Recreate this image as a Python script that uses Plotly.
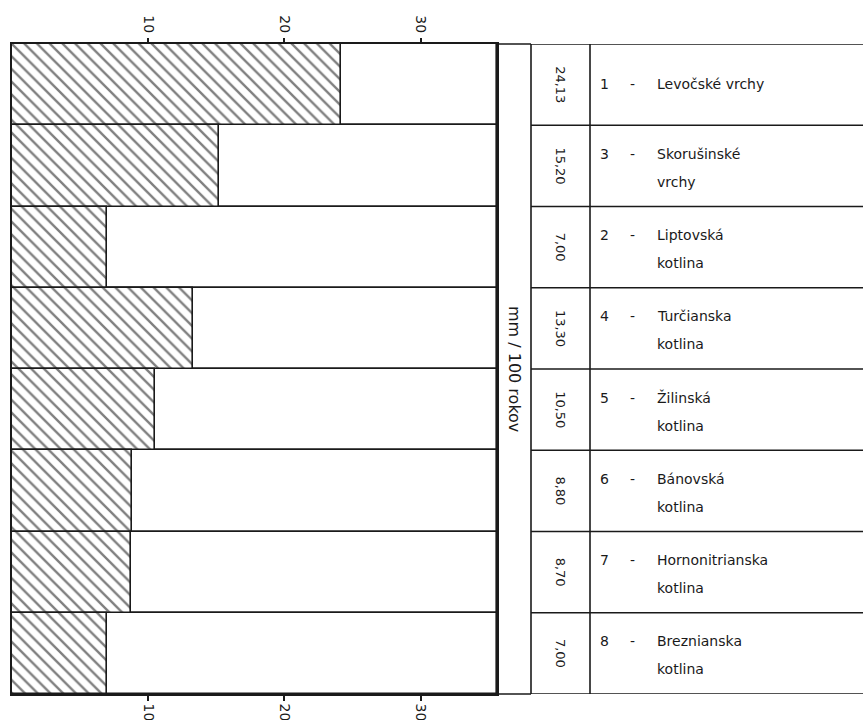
import plotly.graph_objects as go

# ---------------- data ----------------
region_numbers = ["1", "3", "2", "4", "5", "6", "7", "8"]
names_line1 = ["Levočské vrchy", "Skorušinské", "Liptovská", "Turčianska",
               "Žilinská", "Bánovská", "Hornonitrianska", "Breznianska"]
names_line2 = ["", "vrchy", "kotlina", "kotlina",
               "kotlina", "kotlina", "kotlina", "kotlina"]
values = [24.13, 15.20, 7.00, 13.30, 10.50, 8.80, 8.70, 7.00]
value_labels = ["24,13", "15,20", "7,00", "13,30", "10,50", "8,80", "8,70", "7,00"]
tick_vals = [10, 20, 30]
tick_text = ["10", "20", "30"]
unit_label = "mm / 100 rokov"

# ---------------- layout constants ----------------
W, H = 863, 720
X_MAX = 35.6
INK = "#1a1a1a"
FONT = "DejaVu Sans"
LW = 1.6

def px(x):
    return x / W

def py(y):
    return 1 - y / H

PLOT_L, PLOT_R, PLOT_T, PLOT_B = 12, 497, 44, 694
COL_VAL_L, COL_VAL_R = 531, 590

n = len(values)
rows = list(range(n))

fig = go.Figure()

# row frames (full width boxes)
fig.add_trace(go.Bar(
    y=rows, x=[X_MAX] * n, orientation="h",
    marker=dict(color="white", line=dict(color=INK, width=LW)),
    hoverinfo="skip", showlegend=False,
))
# hatched value bars
fig.add_trace(go.Bar(
    y=rows, x=values, orientation="h",
    marker=dict(color="white",
                line=dict(color=INK, width=LW),
                pattern=dict(shape="\\", fgcolor="#000000", bgcolor="white",
                             size=9, solidity=0.26)),
    hoverinfo="skip", showlegend=False,
))
# invisible trace to activate top axis
fig.add_trace(go.Scatter(x=[0], y=[0], xaxis="x2", mode="markers",
                         marker=dict(opacity=0), hoverinfo="skip",
                         showlegend=False))

axis_common = dict(
    range=[0, X_MAX], tickvals=tick_vals, ticktext=tick_text,
    ticks="outside", ticklen=5, tickwidth=LW, tickcolor=INK,
    tickangle=90, tickfont=dict(family=FONT, size=14, color=INK),
    showgrid=False, zeroline=False, automargin=False,
    domain=[px(PLOT_L), px(PLOT_R)],
)
fig.update_layout(
    width=W, height=H,
    margin=dict(l=0, r=0, t=0, b=0),
    paper_bgcolor="white", plot_bgcolor="white",
    barmode="overlay", bargap=0,
    xaxis=dict(**axis_common, side="bottom", showline=True, mirror=True,
               linecolor=INK, linewidth=LW),
    xaxis2=dict(**axis_common, side="top", overlaying="x", matches="x",
                showline=False),
    yaxis=dict(range=[n - 0.5, -0.5], showticklabels=False, ticks="",
               showgrid=False, zeroline=False, showline=True, mirror=True,
               linecolor=INK, linewidth=LW, automargin=False,
               domain=[py(PLOT_B), py(PLOT_T)]),
)

shapes = []
line = dict(color=INK, width=LW)
# vertical table lines
for xv in [COL_VAL_L, COL_VAL_R]:
    shapes.append(dict(type="line", xref="paper", yref="paper",
                       x0=px(xv), x1=px(xv), y0=py(PLOT_T), y1=py(PLOT_B), line=line))
# top and bottom lines over unit column
for yv in [PLOT_T, PLOT_B]:
    shapes.append(dict(type="line", xref="paper", yref="paper",
                       x0=px(PLOT_R), x1=px(COL_VAL_L), y0=py(yv), y1=py(yv), line=line))
# horizontal row lines in the table
for i in range(n + 1):
    shapes.append(dict(type="line", xref="paper", yref="y",
                       x0=px(COL_VAL_L), x1=1, y0=i - 0.5, y1=i - 0.5, line=line))
fig.update_layout(shapes=shapes)

ann = []
txt = dict(family=FONT, color=INK)
ann.append(dict(text=unit_label, xref="paper", yref="paper",
                x=px((PLOT_R + COL_VAL_L) / 2), y=py((PLOT_T + PLOT_B) / 2),
                textangle=90, showarrow=False, font=dict(**txt, size=16)))
for i in rows:
    ann.append(dict(text=value_labels[i], xref="paper", yref="y",
                    x=px((COL_VAL_L + COL_VAL_R) / 2), y=i, textangle=90,
                    showarrow=False, font=dict(**txt, size=13)))
    two = names_line2[i] != ""
    s1 = 12 if two else 1
    ann.append(dict(text=region_numbers[i], xref="paper", yref="y",
                    x=px(611), y=i, yshift=s1, showarrow=False,
                    font=dict(**txt, size=14)))
    ann.append(dict(text="-", xref="paper", yref="y",
                    x=px(637), y=i, yshift=s1, showarrow=False,
                    font=dict(**txt, size=14)))
    ann.append(dict(text=names_line1[i], xref="paper", yref="y",
                    x=px(655), xanchor="left", y=i, yshift=s1, showarrow=False,
                    font=dict(**txt, size=14)))
    if two:
        ann.append(dict(text=names_line2[i], xref="paper", yref="y",
                        x=px(655), xanchor="left", y=i, yshift=-16,
                        showarrow=False, font=dict(**txt, size=14)))
fig.update_layout(annotations=ann)

fig.write_html("out.html",
               config={"displayModeBar": False},
               post_script="document.body.style.margin='0';")
